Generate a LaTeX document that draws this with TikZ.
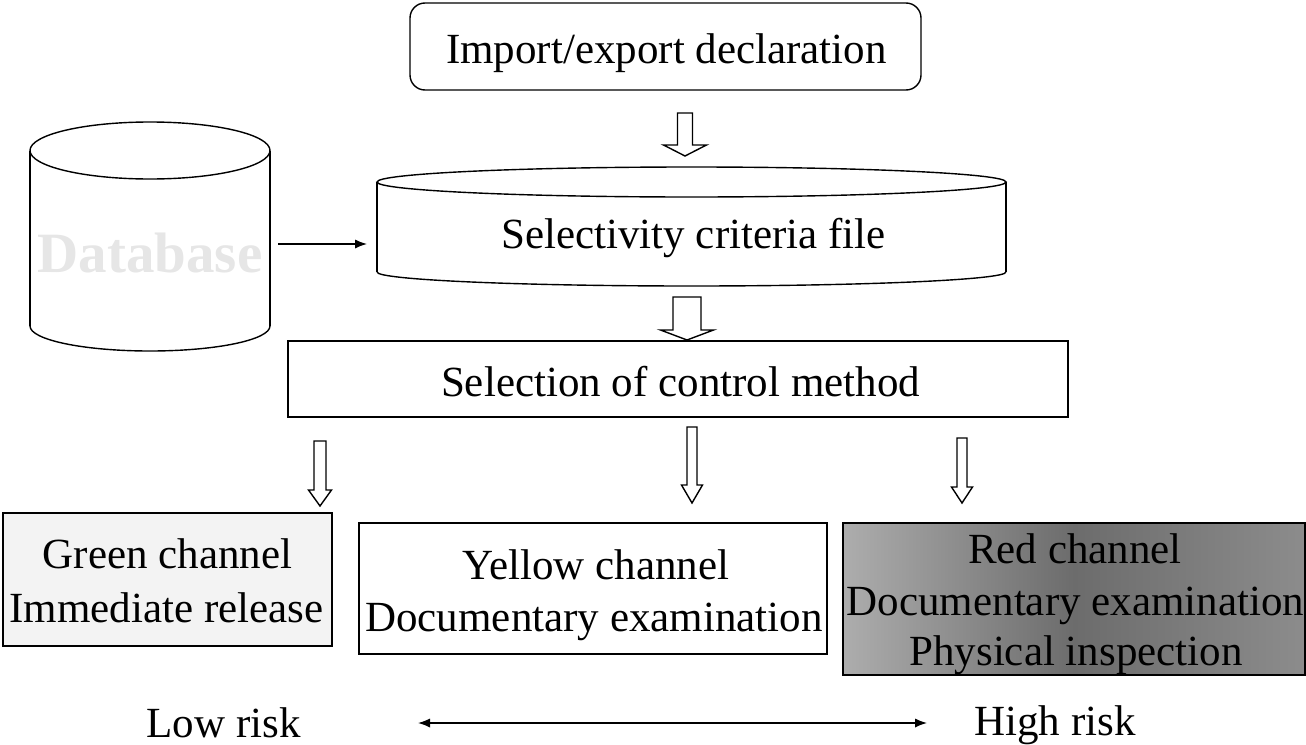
\documentclass[tikz,border=0pt]{standalone}
\usepackage{fontspec}
\setmainfont{Liberation Serif}
\usetikzlibrary{arrows.meta}

\definecolor{redleft}{HTML}{ADADAD}
\definecolor{redmid}{HTML}{6C6C6C}
\definecolor{redright}{HTML}{8C8C8C}
\definecolor{greenfill}{HTML}{F3F3F3}
\definecolor{dbtext}{HTML}{E6E6E6}

% hollow downward block arrow: name, x, y top, y head base, y tip, half shaft, half head
\newcommand{\hollowdown}[7]{%
  \coordinate (#1) at (#2,#5);
  \draw[hollow] (#2-#6,#3) -- (#2+#6,#3) -- (#2+#6,#4) -- (#2+#7,#4)
    -- (#2,#5) -- (#2-#7,#4) -- (#2-#6,#4) -- cycle;}

\begin{document}
\begin{tikzpicture}[x=0.5pt,y=-0.5pt,line width=0.7pt,
  box/.style={draw,inner sep=0pt},
  txt/.style={font=\fontsize{21.5}{26}\selectfont,anchor=base,inner sep=0pt},
  hollow/.style={draw,fill=white,line width=0.7pt,line join=miter},
  thinarrow/.style={line width=0.7pt,-{Latex[length=6pt,width=4.6pt]}},
  bothways/.style={line width=0.7pt,{Latex[length=6pt,width=4.6pt]}-{Latex[length=6pt,width=4.6pt]}}]
\useasboundingbox (0,0) rectangle (1306,744);

% top declaration box
\node[box,rounded corners=7.5pt,minimum width=255.5pt,minimum height=43.5pt] (imp) at (665.5,46.5) {};
\node[txt] (impt) at (666.5,63) {Import/export declaration};

\hollowdown{a1}{685}{113}{145}{156}{7.5}{21.5}

% database cylinder
\draw (150,150.5) ellipse [x radius=60pt,y radius=14.25pt];
\draw (30,150.5) -- (30,326);
\draw (270,150.5) -- (270,326);
\draw (30,326) arc [start angle=180,end angle=360,x radius=60pt,y radius=12.5pt];
\node[txt,font=\fontsize{28.5}{32}\selectfont\bfseries,text=dbtext] (db) at (150,272) {Database};

% selectivity criteria file cylinder
\draw (691.5,182) ellipse [x radius=157.25pt,y radius=7.5pt];
\draw (377,182) -- (377,272);
\draw (1006,182) -- (1006,272);
\draw (377,272) arc [start angle=180,end angle=360,x radius=157.25pt,y radius=7pt];
\node[txt] (sel) at (693.5,248) {Selectivity criteria file};

\coordinate (dbout) at (278,244);
\coordinate (selin) at (367,244);
\draw[thinarrow] (dbout) -- (selin);

\hollowdown{a2}{687}{297}{330}{340}{14}{26.5}

% selection of control method
\node[box,minimum width=390pt,minimum height=38pt] (ctrl) at (678,379) {};
\node[txt] (ctrlt) at (680.5,396) {Selection of control method};

\hollowdown{a3}{320}{441}{490}{506}{6}{11.5}
\hollowdown{a4}{692}{427}{485}{503}{5}{10.5}
\hollowdown{a5}{962}{438}{487}{503}{5}{10.5}

% channels
\node[box,fill=greenfill,minimum width=164.5pt,minimum height=66.5pt] (green) at (167.5,579.5) {};
\node[txt] (g1) at (167.5,568) {Green channel};
\node[txt] (g2) at (166.5,622) {Immediate release};

\node[box,minimum width=234pt,minimum height=65.5pt] (yellow) at (593,588.5) {};
\node[txt] (y1) at (596,579) {Yellow channel};
\node[txt] (y2) at (594,631) {Documentary examination};

\node[box,left color=redleft,right color=redright,middle color=redmid,
      minimum width=231pt,minimum height=76pt] (red) at (1074,599) {};
\node[txt] (r1) at (1075,563) {Red channel};
\node[txt] (r2) at (1075.5,615) {Documentary examination};
\node[txt] (r3) at (1076,665) {Physical inspection};

% risk scale
\node[txt] (low) at (223.5,737) {Low risk};
\node[txt] (high) at (1055,735) {High risk};
\coordinate (lowend) at (418,723);
\coordinate (highend) at (927,723);
\draw[bothways] (lowend) -- (highend);
\end{tikzpicture}
\end{document}
